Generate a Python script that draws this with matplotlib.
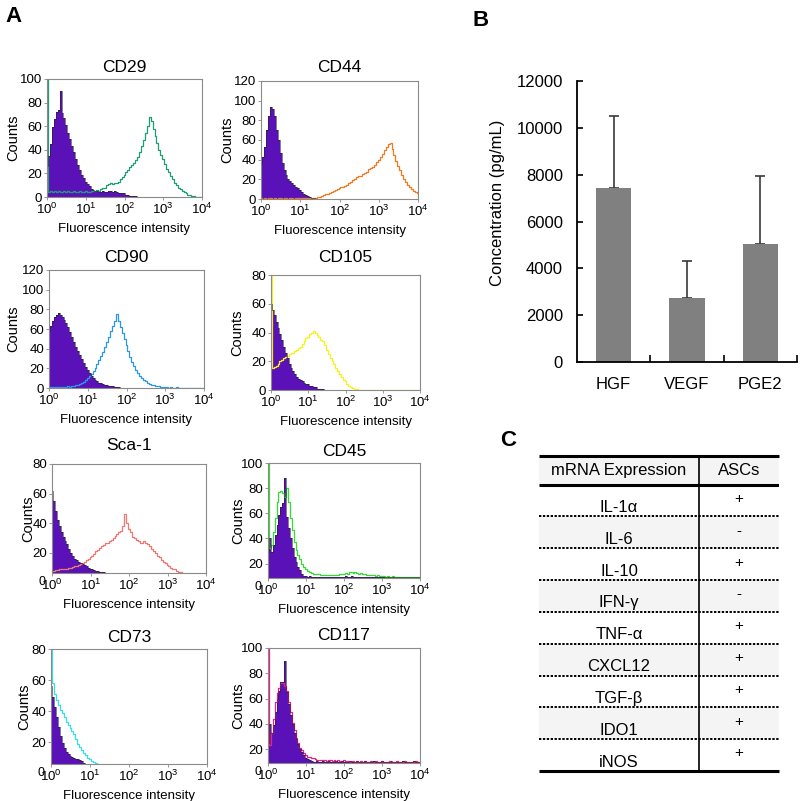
import numpy as np
import matplotlib.pyplot as plt
from matplotlib.transforms import ScaledTranslation

plt.rcParams['font.family'] = ['Liberation Sans', 'DejaVu Sans']
plt.rcParams['mathtext.default'] = 'regular'

# log10 bin centres shared by all histograms: 10^0 .. 10^4 in 0.05-decade steps
decades = np.arange(81) * 0.05

# ---- panel A: flow cytometry counts (isotype control = purple, stained = coloured line)
cd29_iso = [26, 35, 45, 59, 66, 72, 74, 90, 71, 67,
            61, 54, 49, 43, 38, 32, 27, 23, 19, 16,
            13, 11, 9, 7, 6, 5, 5, 4, 4, 5,
            4, 4, 5, 5, 4, 5, 4, 3, 3, 3,
            3, 2, 2, 1, 1, 1, 0.5, 0, 0, 0,
            0, 0, 0, 0, 0, 0, 0, 0, 0, 0,
            0, 0, 0, 0, 0, 0, 0, 0, 0, 0,
            0, 0, 0, 0, 0, 0, 0, 0, 0, 0,
            0]
cd29_pos = [100, 4, 5, 4, 5, 4, 5, 4, 4, 5,
            4, 5, 4, 4, 5, 4, 4, 5, 4, 4,
            5, 4, 4, 5, 5, 5, 6, 5, 7, 8,
            8, 10, 11, 12, 11, 12, 12, 13, 15, 17,
            19, 21, 23, 25, 27, 29, 31, 34, 38, 43,
            48, 54, 60, 68, 64, 58, 52, 46, 40, 36,
            32, 28, 24, 21, 18, 15, 12, 10, 8, 7,
            5, 4, 3, 2, 1.5, 1, 0.5, 0, 0, 0,
            0]
cd44_iso = [36, 43, 53, 70, 84, 94, 92, 84, 70, 60,
            47, 37, 29, 24, 20, 18, 16, 14, 12, 11,
            9, 7, 5, 4, 3, 2, 1, 1, 0.5, 0.5,
            0.5, 0, 0, 0, 0, 0, 0, 0, 0, 0,
            0, 0, 0, 0, 0, 0, 0, 0, 0, 0,
            0, 0, 0, 0, 0, 0, 0, 0, 0, 0,
            0, 0, 0, 0, 0, 0, 0, 0, 0, 0,
            0, 0, 0, 0, 0, 0, 0, 0, 0, 0,
            0]
cd44_pos = [1, 0.5, 1, 0.5, 1, 1, 0.5, 1, 0.5, 1,
            1, 0.5, 1, 1, 0.5, 1, 1, 0.5, 1, 1,
            1, 1, 1, 1, 1, 1, 1.5, 1, 1, 2,
            2.5, 3, 4, 5, 5.5, 6.5, 7, 8, 9, 10,
            11, 12, 12, 13, 14, 16, 17, 19, 20, 22,
            23, 23, 25, 26, 27, 30, 32, 33, 35, 38,
            40, 43, 46, 50, 53, 56, 57, 51, 45, 39,
            34, 29, 24, 20, 17, 14, 12, 10, 8, 7,
            6]
cd90_iso = [58, 63, 68, 72, 74, 76, 74, 72, 69, 66,
            62, 57, 52, 47, 42, 38, 34, 30, 25, 21,
            18, 15, 12, 10, 8, 7, 5, 5, 4, 3,
            3, 2, 2, 2, 1, 1, 1, 0.5, 0, 0,
            0, 0, 0, 0, 0, 0, 0, 0, 0, 0,
            0, 0, 0, 0, 0, 0, 0, 0, 0, 0,
            0, 0, 0, 0, 0, 0, 0, 0, 0, 0,
            0, 0, 0, 0, 0, 0, 0, 0, 0, 0,
            0]
cd90_pos = [1, 1, 1, 1.5, 1, 1, 1.5, 1, 1.5, 1.5,
            2, 1.5, 2, 2, 3, 3, 4, 5, 6, 8,
            10, 12, 14, 17, 20, 24, 28, 33, 37, 42,
            47, 52, 58, 63, 68, 75, 68, 62, 56, 50,
            44, 38, 32, 26, 22, 18, 15, 12, 10, 8,
            7, 5, 4, 3, 3, 2, 2, 2, 1, 1,
            1, 1, 0.5, 1, 0.5, 0.5, 1, 0.5, 0.5, 0.5,
            0.5, 0.5, 0.5, 0.5, 0.5, 0.5, 0.5, 0.5, 0.5, 0.5,
            0.5]
cd105_iso = [60, 56, 52, 47, 43, 39, 35, 30, 26, 22,
             18, 15, 13, 11, 9, 8, 7, 6, 5, 4.5,
             4, 3, 3, 2, 2, 1, 1, 1, 0.5, 0,
             0, 0, 0, 0, 0, 0, 0, 0, 0, 0,
             0, 0, 0, 0, 0, 0, 0, 0, 0, 0,
             0, 0, 0, 0, 0, 0, 0, 0, 0, 0,
             0, 0, 0, 0, 0, 0, 0, 0, 0, 0,
             0, 0, 0, 0, 0, 0, 0, 0, 0, 0,
             0]
cd105_pos = [80, 15, 16, 17, 18, 20, 21, 22, 23, 24,
             25, 26, 26, 27, 28, 29, 30, 32, 34, 36,
             37, 39, 40, 41, 40, 38, 37, 35, 34, 31,
             28, 25, 22, 20, 18, 15, 13, 11, 9, 7,
             6, 4, 3, 2, 1.5, 1, 0.5, 0, 0, 0,
             0, 0, 0, 0, 0, 0, 0, 0, 0, 0,
             0, 0, 0, 0, 0, 0, 0, 0, 0, 0,
             0, 0, 0, 0, 0, 0, 0, 0, 0, 0,
             0]
sca1_iso = [62, 55, 48, 42, 38, 34, 31, 28, 26, 23,
            20, 18, 16, 15, 14, 13, 12.5, 12, 11, 10,
            9.5, 9, 8.5, 8, 8, 7.5, 7, 7, 6.5, 6,
            5, 4, 3, 2, 1, 0.5, 0, 0, 0, 0,
            0, 0, 0, 0, 0, 0, 0, 0, 0, 0,
            0, 0, 0, 0, 0, 0, 0, 0, 0, 0,
            0, 0, 0, 0, 0, 0, 0, 0, 0, 0,
            0, 0, 0, 0, 0, 0, 0, 0, 0, 0,
            0]
sca1_pos = [8, 8, 8.5, 8.5, 9, 9, 9, 9.5, 9.5, 10,
            10, 10.5, 11, 11.5, 12, 12.5, 13, 14, 15, 16,
            17, 18, 19.5, 21, 22, 23.5, 24.5, 25.5, 26.5, 27,
            28, 29, 30, 31.5, 33, 34, 35, 38, 46, 40,
            36, 34, 31, 30, 29, 28, 27, 27, 28, 27,
            26, 25, 23, 21, 20, 18, 17, 15.5, 14, 13,
            12, 11, 10, 9.5, 9, 8, 7.5, 7, 6.5, 6,
            5, 4, 3, 2, 1, 0, 0, 0, 0, 0,
            0]
cd45_iso = [29, 40, 29, 35, 43, 51, 59, 65, 68, 88,
            57, 48, 40, 32, 25, 21, 17, 15, 12, 10,
            10, 9.5, 10, 9, 9.5, 9, 9.5, 9, 9, 9.5,
            9, 9.5, 9, 9, 9.5, 9, 9, 9.5, 9, 9.5,
            9.5, 10, 9.5, 9.5, 10, 9.5, 9.5, 9, 9.5, 9.5,
            9, 9.5, 9, 9, 9.5, 9, 9, 9.5, 9, 9,
            9.5, 9, 9, 9, 9.5, 9, 9, 9, 9.5, 9,
            9, 9, 9.5, 9, 9, 9, 9, 9.5, 9, 9,
            9]
cd45_pos = [100, 32, 35, 45, 56, 69, 77, 78, 76, 73,
            80, 69, 56, 47, 37, 31, 27, 24, 20, 17,
            15.5, 14, 13, 12.5, 12, 12, 11.5, 11.5, 11, 11,
            10.5, 11, 10.5, 10.5, 11, 10.5, 11, 11, 11.5, 11.5,
            12, 12.5, 12, 13, 13, 12.5, 13, 12.5, 12, 12.5,
            11.5, 12, 11, 11, 10.5, 11, 10.5, 10, 10.5, 10,
            10, 10, 9.5, 10, 9.5, 9.5, 10, 9.5, 9.5, 9.5,
            9.5, 9, 9.5, 9.5, 9, 9.5, 9, 9, 9.5, 9,
            9]
cd73_iso = [56, 49, 43, 36.5, 30, 24, 19.5, 16, 14, 12.6,
            11, 10.5, 10, 9.5, 9, 8.5, 7.7, 6.6, 6, 5,
            4, 3, 2, 1, 0.5, 0, 0, 0, 0, 0,
            0, 0, 0, 0, 0, 0, 0, 0, 0, 0,
            0, 0, 0, 0, 0, 0, 0, 0, 0, 0,
            0, 0, 0, 0, 0, 0, 0, 0, 0, 0,
            0, 0, 0, 0, 0, 0, 0, 0, 0, 0,
            0, 0, 0, 0, 0, 0, 0, 0, 0, 0,
            0]
cd73_pos = [80, 58, 51, 47, 44, 41, 39, 36, 33, 31,
            29, 27, 25, 22, 19, 17, 15, 13, 11.5, 10,
            9, 8, 7, 6.5, 6, 5, 4, 3, 2, 1,
            0.5, 0.5, 0, 0, 0, 0, 0, 0, 0, 0,
            0, 0, 0, 0, 0, 0, 0, 0, 0, 0,
            0, 0, 0, 0, 0, 0, 0, 0, 0, 0,
            0, 0, 0, 0, 0, 0, 0, 0, 0, 0,
            0, 0, 0, 0, 0, 0, 0, 0, 0, 0,
            0]
cd117_iso = [25, 40, 33, 39, 49, 60, 66, 73, 73, 90,
             65, 56, 47, 40, 33, 28, 24, 20, 17.5, 15,
             13, 12, 11, 10.5, 10, 10, 10.5, 10, 10, 10.5,
             10, 10, 10.5, 10, 10, 10, 10.5, 10, 10, 10.5,
             10, 10, 10, 10.5, 10, 10, 10, 10.5, 10, 10,
             10, 10.5, 10, 10, 10, 10, 10.5, 10, 10, 10,
             10.5, 10, 10, 10, 10, 10.5, 10, 10, 10, 10,
             10, 10.5, 10, 10, 10, 10, 10, 10.5, 10, 10,
             10]
cd117_pos = [100, 23, 33, 44, 57, 64, 68, 72, 72, 70,
             66, 57, 49, 41, 35, 29, 25, 21, 19, 17,
             15, 14, 13.5, 13, 12.7, 12, 11.6, 11.5, 11, 11,
             11, 10.5, 11, 11, 10.5, 11, 10.5, 11, 10.5, 10.5,
             11, 10.5, 10.5, 10, 10.5, 10.5, 10, 10.5, 10, 10.5,
             10, 10.5, 10, 10, 10.5, 10, 10, 10.5, 10, 10,
             10.5, 10, 10, 10, 10.5, 10, 10, 10, 10.5, 10,
             10, 10, 10.5, 10, 10, 10, 10, 10, 10.5, 10,
             10]

# ---- panel B: secreted factors
cytokines = ['HGF', 'VEGF', 'PGE2']
conc_mean = [7450, 2730, 5060]
conc_err = [3050, 1600, 2900]

# ---- panel C: mRNA expression table
genes = ['IL-1α', 'IL-6', 'IL-10', 'IFN-γ', 'TNF-α', 'CXCL12', 'TGF-β', 'IDO1', 'iNOS']
ascs = ['+', '-', '+', '-', '+', '+', '+', '+', '+']

W, H = 800, 801
fig = plt.figure(figsize=(W / 100, H / 100), dpi=100)


def px_axes(l, t, r, b):
    return fig.add_axes([l / W, 1 - b / H, (r - l) / W, (b - t) / H])


PURPLE = '#5a12b8'
# name, isotype, stained, colour, (l, t, r, b) in px, title y px, ymax, ymin, counts offset px
hist_panels = [
    ('CD29', cd29_iso, cd29_pos, '#1f9e74', (47, 79, 202, 197), 67, 100, 0, 34),
    ('CD44', cd44_iso, cd44_pos, '#f47a20', (261, 81, 418, 199), 68, 120, 0, 34),
    ('CD90', cd90_iso, cd90_pos, '#2b98e6', (49, 270, 204, 388), 257, 120, 0, 36),
    ('CD105', cd105_iso, cd105_pos, '#f4f21c', (271, 275, 420, 390), 257, 80, 0, 34),
    ('Sca-1', sca1_iso, sca1_pos, '#f07872', (52, 464, 206, 573), 445, 80, 6.5, 24),
    ('CD45', cd45_iso, cd45_pos, '#35dc35', (268, 463, 420, 578), 451, 100, 8.5, 30),
    ('CD73', cd73_iso, cd73_pos, '#35e0e6', (51, 649, 207, 764), 637, 80, 6, 27),
    ('CD117', cd117_iso, cd117_pos, '#e8208a', (268, 648, 420, 763), 635, 100, 9, 30),
]

shift_right = ScaledTranslation(4 / 100, 0, fig.dpi_scale_trans)

for name, iso, pos, col, box, ty, ymax, ymin, cx in hist_panels:
    assert len(iso) == len(decades) and len(pos) == len(decades), name
    l, t, r, b = box
    ax = px_axes(l, t, r, b)
    ax.fill_between(decades, iso, step='mid', color=PURPLE, lw=0)
    ax.plot(decades, pos, drawstyle='steps-mid', color=col, lw=0.9)
    ax.plot(decades, iso, drawstyle='steps-mid', color='#222222', lw=0.5, alpha=0.8)
    ax.set_xlim(0, 4)
    ax.set_ylim(ymin, ymax)
    ax.set_xticks(range(5))
    ax.set_xticklabels([r'$10^{%d}$' % k for k in range(5)], fontsize=9.5)
    for lab in ax.get_xticklabels():
        lab.set_transform(lab.get_transform() + shift_right)
    if ymin > 0:
        ax.set_yticks(range(20, ymax + 1, 20))
        ax.annotate('0', xy=(0, 0), xycoords='axes fraction', xytext=(-7.5, -6.8),
                    textcoords='offset points', ha='center', va='center', fontsize=9)
    else:
        ax.set_yticks(range(0, ymax + 1, 20))
    ax.tick_params(labelsize=9.5, length=2, width=0.6, color='#888888', pad=1.5)
    for s in ax.spines.values():
        s.set_color('#8a8a8a')
        s.set_linewidth(0.8)
    ax.set_xlabel('Fluorescence intensity', fontsize=9.5)
    ax.xaxis.set_label_coords(0.5, -26 / (b - t))
    ax.set_ylabel('Counts', fontsize=10.5)
    ax.yaxis.set_label_coords(-(cx - 7) / (r - l), 0.5)
    fig.text((l + r) / 2 / W, 1 - ty / H, name, ha='center', va='center', fontsize=12.5)

# ---- panel B
axb = px_axes(577, 81, 797, 362)
xb = np.arange(len(cytokines))
axb.bar(xb, conc_mean, width=0.48, color='#808080', zorder=2)
axb.errorbar(xb, conc_mean, yerr=[[0] * len(xb), conc_err], fmt='none',
             ecolor='#3a3a3a', elinewidth=1.2, capsize=3.5, capthick=1.2, zorder=1)
axb.set_xlim(-0.5, 2.5)
axb.set_ylim(0, 12000)
axb.set_yticks(range(0, 12001, 2000))
axb.set_xticks(xb)
axb.set_xticklabels(cytokines)
axb.set_xticks(xb + 0.5, minor=True)
axb.tick_params(axis='x', which='major', length=0, pad=11, labelsize=12)
axb.tick_params(axis='x', which='minor', direction='in', length=5, width=1.2)
axb.tick_params(axis='y', direction='in', length=4, width=1.2, pad=10, labelsize=12)
for s in ['top', 'right']:
    axb.spines[s].set_visible(False)
for s in ['left', 'bottom']:
    axb.spines[s].set_linewidth(1.3)
axb.set_ylabel('Concentration (pg/mL)', fontsize=12)
axb.yaxis.set_label_coords(-0.327, 0.566)

# ---- panel C table
axc = px_axes(539, 456, 779, 771)
axc.set_xlim(0, 1)
axc.set_ylim(len(genes), -0.9)
axc.axis('off')
div = 0.667
axc.axhspan(-0.9, 0, color='#f4f4f4', lw=0)
for i, (g, v) in enumerate(zip(genes, ascs)):
    if i % 2 == 1:
        axc.axhspan(i, i + 1, color='#f4f4f4', lw=0)
    axc.text(div / 2, i + 0.72, g, ha='center', va='center', fontsize=12)
    axc.text((1 + div) / 2, i + 0.45, v, ha='center', va='center', fontsize=11)
    if i > 0:
        axc.plot([0, 1], [i, i], color='black', lw=1.4, ls=(0, (1.2, 0.8)))
axc.text(div / 2, -0.45, 'mRNA Expression', ha='center', va='center', fontsize=12)
axc.text((1 + div) / 2, -0.45, 'ASCs', ha='center', va='center', fontsize=12)
axc.plot([0, 1], [-0.9, -0.9], color='black', lw=2.2, solid_capstyle='butt', clip_on=False)
axc.plot([0, 1], [0, 0], color='black', lw=2.2, solid_capstyle='butt')
axc.plot([0, 1], [len(genes), len(genes)], color='black', lw=2.2, solid_capstyle='butt', clip_on=False)
axc.plot([div, div], [-0.9, len(genes)], color='black', lw=1.2, clip_on=False)

# panel letters
for letter, x, y in [('A', 13, 17), ('B', 481, 20), ('C', 508, 441)]:
    fig.text(x / W, 1 - y / H, letter, ha='center', va='center', fontsize=16, fontweight='bold')

fig.savefig('out.png', dpi=100)
